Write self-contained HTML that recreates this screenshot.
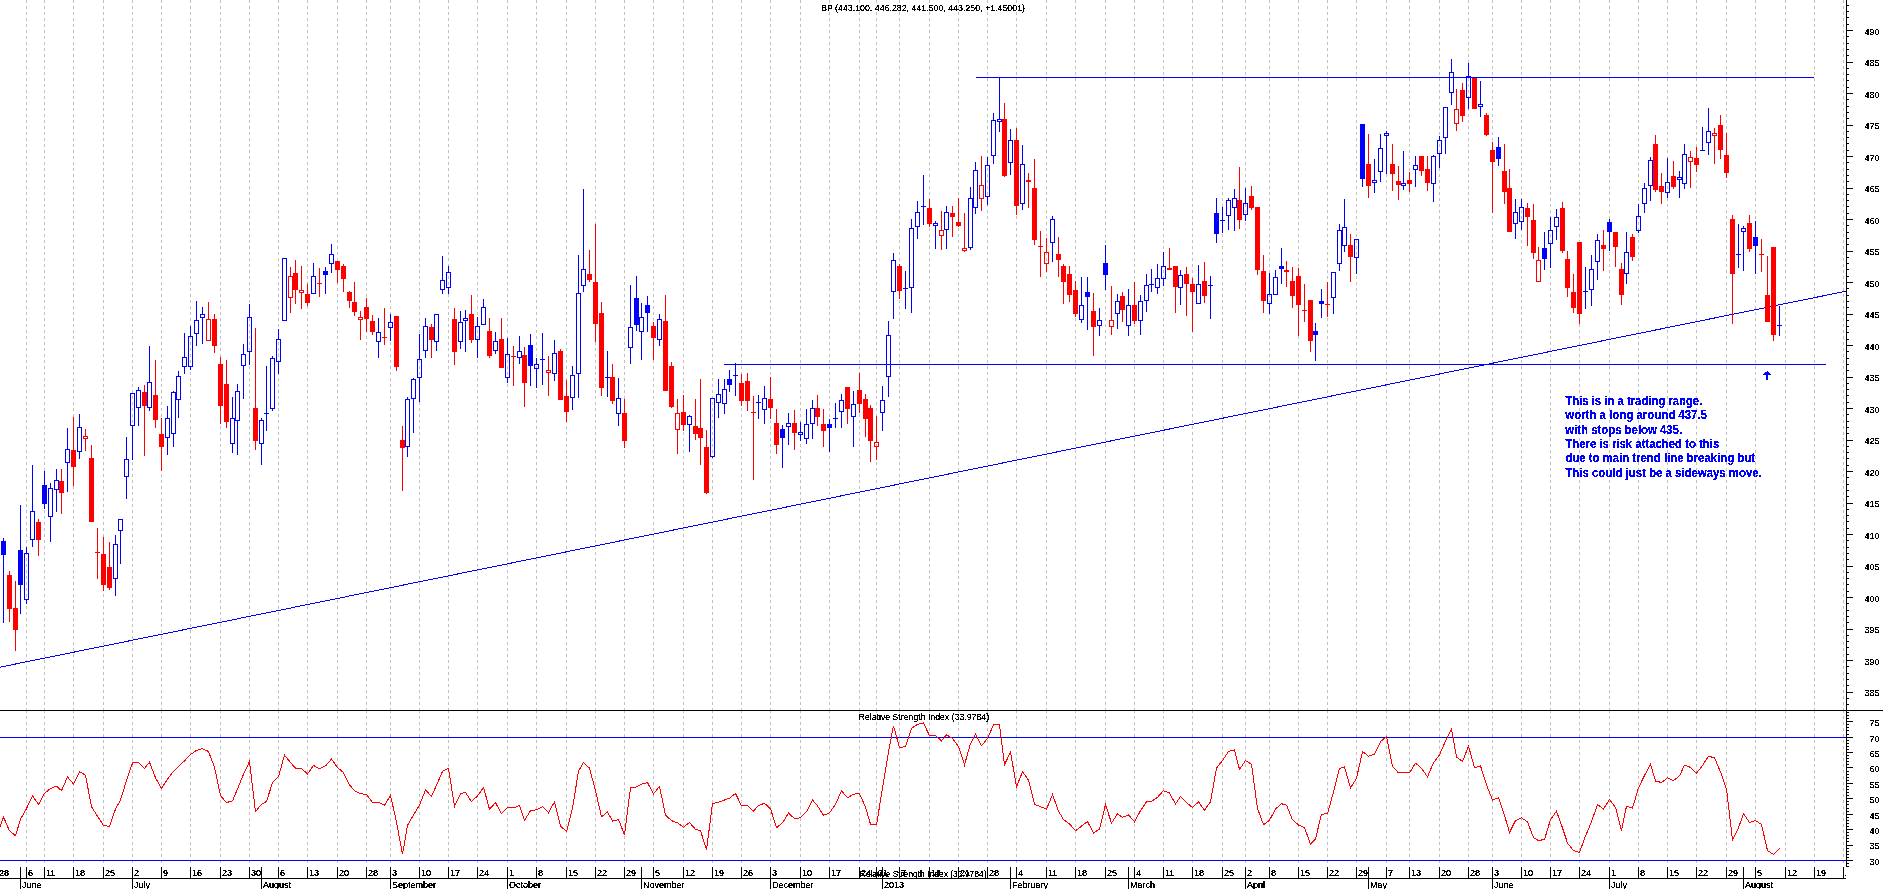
<!DOCTYPE html><html><head><meta charset="utf-8"><style>html,body{margin:0;padding:0;background:#fff;}body{width:1883px;height:889px;overflow:hidden;}svg{display:block;}text{font-family:"Liberation Sans",sans-serif;}</style></head><body>
<svg width="1883" height="889" viewBox="0 0 1883 889" shape-rendering="crispEdges">
<defs><filter id="cr" x="0" y="0" width="1" height="1"><feComponentTransfer><feFuncA type="discrete" tableValues="0 1 1"/></feComponentTransfer></filter></defs>
<rect x="0" y="0" width="1883" height="889" fill="#fff"/>
<path d="M26.5 0V710M44.5 0V710M73.5 0V710M103.5 0V710M132.5 0V710M161.5 0V710M190.5 0V710M220.5 0V710M249.5 0V710M278.5 0V710M307.5 0V710M337.5 0V710M366.5 0V710M390.5 0V710M419.5 0V710M448.5 0V710M477.5 0V710M507.5 0V710M536.5 0V710M566.5 0V710M595.5 0V710M624.5 0V710M653.5 0V710M683.5 0V710M712.5 0V710M741.5 0V710M770.5 0V710M800.5 0V710M829.5 0V710M859.5 0V710M876.5 0V710M899.5 0V710M929.5 0V710M958.5 0V710M987.5 0V710M1016.5 0V710M1046.5 0V710M1075.5 0V710M1105.5 0V710M1134.5 0V710M1163.5 0V710M1192.5 0V710M1222.5 0V710M1245.5 0V710M1269.5 0V710M1298.5 0V710M1327.5 0V710M1356.5 0V710M1386.5 0V710M1409.5 0V710M1439.5 0V710M1468.5 0V710M1492.5 0V710M1521.5 0V710M1550.5 0V710M1579.5 0V710M1609.5 0V710M1638.5 0V710M1667.5 0V710M1696.5 0V710M1726.5 0V710M1755.5 0V710M1785.5 0V710M1814.5 0V710M1843.5 0V710" stroke="#c0c0c0" stroke-width="1" stroke-dasharray="3 3" fill="none"/>
<path d="M26.5 710V863M44.5 710V863M73.5 710V863M103.5 710V863M132.5 710V863M161.5 710V863M190.5 710V863M220.5 710V863M249.5 710V863M278.5 710V863M307.5 710V863M337.5 710V863M366.5 710V863M390.5 710V863M419.5 710V863M448.5 710V863M477.5 710V863M507.5 710V863M536.5 710V863M566.5 710V863M595.5 710V863M624.5 710V863M653.5 710V863M683.5 710V863M712.5 710V863M741.5 710V863M770.5 710V863M800.5 710V863M829.5 710V863M859.5 710V863M876.5 710V863M899.5 710V863M929.5 710V863M958.5 710V863M987.5 710V863M1016.5 710V863M1046.5 710V863M1075.5 710V863M1105.5 710V863M1134.5 710V863M1163.5 710V863M1192.5 710V863M1222.5 710V863M1245.5 710V863M1269.5 710V863M1298.5 710V863M1327.5 710V863M1356.5 710V863M1386.5 710V863M1409.5 710V863M1439.5 710V863M1468.5 710V863M1492.5 710V863M1521.5 710V863M1550.5 710V863M1579.5 710V863M1609.5 710V863M1638.5 710V863M1667.5 710V863M1696.5 710V863M1726.5 710V863M1755.5 710V863M1785.5 710V863M1814.5 710V863M1843.5 710V863" stroke="#c0c0c0" stroke-width="1" stroke-dasharray="3 3" fill="none"/>
<path d="M0 737.5H1846M0 860.5H1846" stroke="#0000ff" stroke-width="1"/>
<path d="M976 77.5H1814M724 364.5H1826" stroke="#0000ff" stroke-width="1"/>
<path d="M0 667.18L1846 291.22" stroke="#0000ff" stroke-width="1" fill="none"/>
<path d="M9 571h1v4h-1zM9 609h1v13h-1zM7 575h5v34h-5zM15 581h1v27h-1zM15 630h1v21h-1zM13 608h5v22h-5zM38 519h1v3h-1zM38 540h1v16h-1zM36 522h5v18h-5zM61 469h1v12h-1zM61 493h1v21h-1zM59 481h5v12h-5zM73 417h1v33h-1zM73 467h1v19h-1zM71 450h5v17h-5zM85 429h1v7h-1zM85 439h1v12h-1zM83 436h5v1h-5zM83 438h5v1h-5zM83 436h1v3h-1zM87 436h1v3h-1zM91 445h1v13h-1zM89 458h5v64h-5zM97 528h1v51h-1zM95 552h5v1h-5zM103 537h1v17h-1zM103 585h1v6h-1zM101 554h5v31h-5zM109 542h1v25h-1zM109 588h1v2h-1zM107 567h5v21h-5zM144 385h1v7h-1zM144 406h1v50h-1zM142 392h5v14h-5zM155 360h1v35h-1zM155 420h1v8h-1zM153 395h5v25h-5zM161 418h1v16h-1zM161 447h1v24h-1zM159 434h5v13h-5zM208 302h1v17h-1zM206 319h5v1h-5zM206 340h5v1h-5zM206 319h1v22h-1zM210 319h1v22h-1zM214 314h1v5h-1zM214 346h1v7h-1zM212 319h5v27h-5zM220 357h1v7h-1zM220 406h1v18h-1zM218 364h5v42h-5zM226 360h1v24h-1zM226 422h1v6h-1zM224 384h5v38h-5zM255 328h1v80h-1zM255 441h1v9h-1zM253 408h5v33h-5zM290 267h1v9h-1zM290 298h1v15h-1zM288 276h5v1h-5zM288 297h5v1h-5zM288 276h1v22h-1zM292 276h1v22h-1zM295 260h1v13h-1zM295 290h1v14h-1zM293 273h5v17h-5zM301 266h1v24h-1zM301 293h1v16h-1zM299 290h5v1h-5zM299 292h5v1h-5zM299 290h1v3h-1zM303 290h1v3h-1zM307 284h1v10h-1zM307 303h1v3h-1zM305 294h5v9h-5zM319 268h1v29h-1zM317 283h5v1h-5zM337 270h1v13h-1zM335 261h5v9h-5zM343 264h1v2h-1zM343 279h1v13h-1zM341 266h5v13h-5zM349 291h1v1h-1zM349 301h1v7h-1zM347 292h5v9h-5zM354 282h1v20h-1zM354 312h1v4h-1zM352 302h5v10h-5zM360 311h1v6h-1zM360 320h1v20h-1zM358 317h5v1h-5zM358 319h5v1h-5zM358 317h1v3h-1zM362 317h1v3h-1zM366 298h1v9h-1zM366 319h1v13h-1zM364 307h5v12h-5zM372 315h1v6h-1zM372 332h1v3h-1zM370 321h5v11h-5zM384 308h1v37h-1zM382 337h5v1h-5zM396 367h1v4h-1zM394 316h5v51h-5zM402 426h1v14h-1zM402 448h1v43h-1zM400 440h5v8h-5zM431 324h1v3h-1zM431 340h1v18h-1zM429 327h5v13h-5zM454 308h1v11h-1zM454 352h1v13h-1zM452 319h5v33h-5zM471 295h1v19h-1zM471 340h1v3h-1zM469 314h5v26h-5zM489 318h1v13h-1zM489 356h1v2h-1zM487 331h5v25h-5zM501 318h1v21h-1zM499 339h5v29h-5zM513 346h1v40h-1zM511 356h5v1h-5zM524 347h1v8h-1zM524 383h1v24h-1zM522 355h5v28h-5zM548 356h1v14h-1zM548 373h1v23h-1zM546 370h5v1h-5zM546 372h5v1h-5zM546 370h1v3h-1zM550 370h1v3h-1zM560 349h1v2h-1zM558 351h5v49h-5zM566 380h1v16h-1zM566 412h1v10h-1zM564 396h5v16h-5zM589 250h1v24h-1zM589 280h1v2h-1zM587 274h5v6h-5zM595 224h1v58h-1zM595 324h1v18h-1zM593 282h5v42h-5zM601 302h1v11h-1zM601 388h1v8h-1zM599 313h5v75h-5zM612 364h1v13h-1zM612 401h1v3h-1zM610 377h5v24h-5zM624 399h1v14h-1zM624 441h1v7h-1zM622 413h5v28h-5zM653 322h1v4h-1zM653 338h1v22h-1zM651 326h5v12h-5zM665 295h1v26h-1zM663 321h5v70h-5zM671 362h1v4h-1zM671 407h1v1h-1zM669 366h5v41h-5zM677 399h1v14h-1zM677 430h1v24h-1zM675 413h5v1h-5zM675 429h5v1h-5zM675 413h1v17h-1zM679 413h1v17h-1zM683 395h1v17h-1zM683 425h1v6h-1zM681 412h5v13h-5zM695 399h1v27h-1zM695 434h1v6h-1zM693 426h5v8h-5zM700 379h1v49h-1zM700 438h1v27h-1zM698 428h5v10h-5zM706 430h1v17h-1zM706 493h1v1h-1zM704 447h5v46h-5zM741 374h1v9h-1zM741 401h1v5h-1zM739 383h5v18h-5zM747 373h1v8h-1zM747 401h1v10h-1zM745 381h5v20h-5zM753 396h1v84h-1zM751 412h5v1h-5zM770 377h1v22h-1zM770 408h1v11h-1zM768 399h5v9h-5zM776 409h1v14h-1zM776 445h1v9h-1zM774 423h5v22h-5zM794 410h1v13h-1zM794 433h1v17h-1zM792 423h5v10h-5zM817 395h1v13h-1zM817 417h1v9h-1zM815 408h5v9h-5zM823 409h1v15h-1zM823 431h1v16h-1zM821 424h5v7h-5zM847 409h1v15h-1zM845 387h5v22h-5zM859 373h1v17h-1zM859 404h1v9h-1zM857 390h5v14h-5zM865 394h1v5h-1zM865 419h1v18h-1zM863 399h5v20h-5zM870 405h1v3h-1zM870 441h1v21h-1zM868 408h5v33h-5zM876 416h1v26h-1zM876 447h1v13h-1zM874 442h5v1h-5zM874 446h5v1h-5zM874 442h1v5h-1zM878 442h1v5h-1zM899 264h1v2h-1zM899 291h1v8h-1zM897 266h5v25h-5zM929 199h1v9h-1zM929 224h1v3h-1zM927 208h5v16h-5zM941 211h1v19h-1zM941 236h1v14h-1zM939 230h5v1h-5zM939 235h5v1h-5zM939 230h1v6h-1zM943 230h1v6h-1zM952 206h1v7h-1zM952 217h1v20h-1zM950 213h5v4h-5zM958 198h1v24h-1zM958 226h1v1h-1zM956 222h5v4h-5zM964 213h1v35h-1zM964 251h1v1h-1zM962 248h5v1h-5zM962 250h5v1h-5zM962 248h1v3h-1zM966 248h1v3h-1zM981 156h1v29h-1zM981 199h1v12h-1zM979 185h5v1h-5zM979 198h5v1h-5zM979 185h1v14h-1zM983 185h1v14h-1zM1004 103h1v16h-1zM1004 176h1v1h-1zM1002 119h5v57h-5zM1016 128h1v12h-1zM1016 206h1v9h-1zM1014 140h5v66h-5zM1028 173h1v7h-1zM1028 182h1v26h-1zM1026 180h5v2h-5zM1034 159h1v29h-1zM1034 240h1v5h-1zM1032 188h5v52h-5zM1040 231h1v46h-1zM1038 246h5v1h-5zM1046 238h1v14h-1zM1046 264h1v8h-1zM1044 252h5v1h-5zM1044 263h5v1h-5zM1044 252h1v12h-1zM1048 252h1v12h-1zM1058 237h1v17h-1zM1058 260h1v17h-1zM1056 254h5v6h-5zM1063 264h1v2h-1zM1063 282h1v22h-1zM1061 266h5v16h-5zM1069 266h1v8h-1zM1069 295h1v7h-1zM1067 274h5v21h-5zM1075 281h1v9h-1zM1075 314h1v3h-1zM1073 290h5v24h-5zM1093 293h1v18h-1zM1093 327h1v29h-1zM1091 311h5v16h-5zM1111 286h1v34h-1zM1111 327h1v8h-1zM1109 320h5v1h-5zM1109 326h5v1h-5zM1109 320h1v7h-1zM1113 320h1v7h-1zM1122 292h1v4h-1zM1122 310h1v12h-1zM1120 296h5v14h-5zM1134 282h1v23h-1zM1134 321h1v3h-1zM1132 305h5v16h-5zM1169 248h1v20h-1zM1167 268h5v2h-5zM1175 287h1v26h-1zM1173 266h5v21h-5zM1186 267h1v7h-1zM1186 284h1v32h-1zM1184 274h5v10h-5zM1192 278h1v6h-1zM1192 292h1v40h-1zM1190 284h5v8h-5zM1204 262h1v19h-1zM1204 296h1v7h-1zM1202 281h5v15h-5zM1239 167h1v33h-1zM1239 220h1v9h-1zM1237 200h5v20h-5zM1251 186h1v10h-1zM1251 208h1v2h-1zM1249 196h5v12h-5zM1257 270h1v5h-1zM1255 207h5v63h-5zM1263 255h1v16h-1zM1263 301h1v12h-1zM1261 271h5v30h-5zM1286 261h1v9h-1zM1286 272h1v15h-1zM1284 270h5v2h-5zM1292 267h1v14h-1zM1292 296h1v12h-1zM1290 281h5v15h-5zM1298 268h1v8h-1zM1298 305h1v31h-1zM1296 276h5v29h-5zM1304 284h1v38h-1zM1302 310h5v1h-5zM1310 341h1v11h-1zM1308 300h5v41h-5zM1327 282h1v35h-1zM1325 304h5v1h-5zM1350 234h1v11h-1zM1350 257h1v25h-1zM1348 245h5v12h-5zM1368 134h1v30h-1zM1368 186h1v12h-1zM1366 164h5v22h-5zM1392 144h1v20h-1zM1392 174h1v17h-1zM1390 164h5v10h-5zM1398 166h1v15h-1zM1398 185h1v15h-1zM1396 181h5v4h-5zM1409 172h1v8h-1zM1409 184h1v8h-1zM1407 180h5v4h-5zM1421 171h1v5h-1zM1419 156h5v15h-5zM1427 156h1v13h-1zM1427 183h1v8h-1zM1425 169h5v14h-5zM1456 89h1v20h-1zM1456 124h1v7h-1zM1454 109h5v1h-5zM1454 123h5v1h-5zM1454 109h1v15h-1zM1458 109h1v15h-1zM1462 83h1v7h-1zM1462 116h1v6h-1zM1460 90h5v26h-5zM1472 78h5v31h-5zM1486 113h1v2h-1zM1486 135h1v1h-1zM1484 115h5v20h-5zM1492 142h1v8h-1zM1492 162h1v51h-1zM1490 150h5v12h-5zM1504 144h1v27h-1zM1504 192h1v12h-1zM1502 171h5v21h-5zM1509 169h1v19h-1zM1507 188h5v44h-5zM1527 203h1v5h-1zM1527 217h1v29h-1zM1525 208h5v9h-5zM1533 204h1v16h-1zM1533 253h1v6h-1zM1531 220h5v33h-5zM1538 247h1v13h-1zM1536 260h5v1h-5zM1536 281h5v1h-5zM1536 260h1v22h-1zM1540 260h1v22h-1zM1562 202h1v6h-1zM1562 251h1v2h-1zM1560 208h5v43h-5zM1567 251h1v8h-1zM1567 288h1v9h-1zM1565 259h5v29h-5zM1573 274h1v18h-1zM1573 308h1v5h-1zM1571 292h5v16h-5zM1579 314h1v10h-1zM1577 242h5v72h-5zM1603 230h1v15h-1zM1603 249h1v22h-1zM1601 245h5v4h-5zM1615 247h1v20h-1zM1613 232h5v15h-5zM1621 263h1v6h-1zM1621 295h1v10h-1zM1619 269h5v26h-5zM1632 234h1v3h-1zM1632 257h1v4h-1zM1630 237h5v20h-5zM1655 135h1v9h-1zM1655 190h1v2h-1zM1653 144h5v46h-5zM1661 173h1v13h-1zM1661 192h1v12h-1zM1659 186h5v6h-5zM1673 161h1v15h-1zM1673 187h1v2h-1zM1671 176h5v11h-5zM1690 151h1v6h-1zM1690 162h1v26h-1zM1688 157h5v1h-5zM1688 161h5v1h-5zM1688 157h1v5h-1zM1692 157h1v5h-1zM1696 147h1v11h-1zM1696 165h1v7h-1zM1694 158h5v7h-5zM1714 128h1v5h-1zM1714 136h1v28h-1zM1712 133h5v1h-5zM1712 135h5v1h-5zM1712 133h1v3h-1zM1716 133h1v3h-1zM1720 115h1v10h-1zM1720 150h1v9h-1zM1718 125h5v25h-5zM1726 133h1v22h-1zM1726 173h1v5h-1zM1724 155h5v18h-5zM1732 215h1v4h-1zM1732 274h1v50h-1zM1730 219h5v55h-5zM1749 215h1v8h-1zM1749 249h1v3h-1zM1747 223h5v26h-5zM1761 239h1v33h-1zM1759 254h5v1h-5zM1767 256h1v39h-1zM1765 295h5v27h-5zM1773 335h1v6h-1zM1771 247h5v88h-5z" fill="#ff0000"/>
<path d="M3 538h1v3h-1zM3 555h1v68h-1zM1 541h5v14h-5zM20 505h1v45h-1zM20 585h1v29h-1zM18 550h5v35h-5zM26 547h1v6h-1zM26 600h1v4h-1zM24 553h5v1h-5zM24 599h5v1h-5zM24 553h1v47h-1zM28 553h1v47h-1zM32 465h1v46h-1zM32 540h1v7h-1zM30 511h5v1h-5zM30 539h5v1h-5zM30 511h1v29h-1zM34 511h1v29h-1zM44 471h1v14h-1zM44 504h1v5h-1zM42 485h5v19h-5zM50 483h1v5h-1zM50 517h1v25h-1zM48 488h5v1h-5zM48 516h5v1h-5zM48 488h1v29h-1zM52 488h1v29h-1zM56 469h1v11h-1zM56 490h1v22h-1zM54 480h5v1h-5zM54 489h5v1h-5zM54 480h1v10h-1zM58 480h1v10h-1zM67 428h1v21h-1zM67 463h1v29h-1zM65 449h5v1h-5zM65 462h5v1h-5zM65 449h1v14h-1zM69 449h1v14h-1zM79 414h1v13h-1zM79 452h1v7h-1zM77 427h5v1h-5zM77 451h5v1h-5zM77 427h1v25h-1zM81 427h1v25h-1zM115 535h1v9h-1zM115 579h1v17h-1zM113 544h5v1h-5zM113 578h5v1h-5zM113 544h1v35h-1zM117 544h1v35h-1zM120 531h1v33h-1zM118 519h5v1h-5zM118 530h5v1h-5zM118 519h1v12h-1zM122 519h1v12h-1zM126 437h1v22h-1zM126 477h1v22h-1zM124 459h5v1h-5zM124 476h5v1h-5zM124 459h1v18h-1zM128 459h1v18h-1zM132 426h1v34h-1zM130 393h5v1h-5zM130 425h5v1h-5zM130 393h1v33h-1zM134 393h1v33h-1zM138 387h1v3h-1zM138 408h1v18h-1zM136 390h5v1h-5zM136 407h5v1h-5zM136 390h1v18h-1zM140 390h1v18h-1zM149 346h1v36h-1zM149 408h1v3h-1zM147 382h5v1h-5zM147 407h5v1h-5zM147 382h1v26h-1zM151 382h1v26h-1zM167 406h1v12h-1zM167 438h1v17h-1zM165 418h5v1h-5zM165 437h5v1h-5zM165 418h1v20h-1zM169 418h1v20h-1zM173 391h1v1h-1zM173 434h1v13h-1zM171 392h5v1h-5zM171 433h5v1h-5zM171 392h1v42h-1zM175 392h1v42h-1zM178 371h1v5h-1zM178 400h1v18h-1zM176 376h5v1h-5zM176 399h5v1h-5zM176 376h1v24h-1zM180 376h1v24h-1zM184 333h1v24h-1zM184 367h1v7h-1zM182 357h5v1h-5zM182 366h5v1h-5zM182 357h1v10h-1zM186 357h1v10h-1zM190 326h1v10h-1zM190 367h1v3h-1zM188 336h5v1h-5zM188 366h5v1h-5zM188 336h1v31h-1zM192 336h1v31h-1zM196 301h1v19h-1zM196 334h1v12h-1zM194 320h5v1h-5zM194 333h5v1h-5zM194 320h1v14h-1zM198 320h1v14h-1zM202 307h1v7h-1zM202 318h1v26h-1zM200 314h5v1h-5zM200 317h5v1h-5zM200 314h1v4h-1zM204 314h1v4h-1zM232 397h1v21h-1zM232 444h1v9h-1zM230 418h5v1h-5zM230 443h5v1h-5zM230 418h1v26h-1zM234 418h1v26h-1zM237 384h1v7h-1zM237 421h1v34h-1zM235 391h5v1h-5zM235 420h5v1h-5zM235 391h1v30h-1zM239 391h1v30h-1zM243 344h1v10h-1zM243 366h1v33h-1zM241 354h5v1h-5zM241 365h5v1h-5zM241 354h1v12h-1zM245 354h1v12h-1zM249 304h1v13h-1zM249 352h1v13h-1zM247 317h5v1h-5zM247 351h5v1h-5zM247 317h1v35h-1zM251 317h1v35h-1zM261 418h1v2h-1zM261 444h1v21h-1zM259 420h5v1h-5zM259 443h5v1h-5zM259 420h1v24h-1zM263 420h1v24h-1zM266 366h1v65h-1zM264 413h5v1h-5zM272 356h1v2h-1zM272 409h1v2h-1zM270 358h5v1h-5zM270 408h5v1h-5zM270 358h1v51h-1zM274 358h1v51h-1zM278 329h1v10h-1zM278 362h1v12h-1zM276 339h5v1h-5zM276 361h5v1h-5zM276 339h1v23h-1zM280 339h1v23h-1zM282 258h5v1h-5zM282 320h5v1h-5zM282 258h1v63h-1zM286 258h1v63h-1zM313 263h1v13h-1zM311 276h5v1h-5zM311 293h5v1h-5zM311 276h1v18h-1zM315 276h1v18h-1zM325 267h1v4h-1zM325 275h1v19h-1zM323 271h5v4h-5zM331 244h1v10h-1zM331 264h1v9h-1zM329 254h5v1h-5zM329 263h5v1h-5zM329 254h1v10h-1zM333 254h1v10h-1zM378 318h1v14h-1zM378 342h1v16h-1zM376 332h5v1h-5zM376 341h5v1h-5zM376 332h1v10h-1zM380 332h1v10h-1zM390 314h1v8h-1zM390 328h1v13h-1zM388 322h5v1h-5zM388 327h5v1h-5zM388 322h1v6h-1zM392 322h1v6h-1zM407 397h1v2h-1zM407 447h1v10h-1zM405 399h5v1h-5zM405 446h5v1h-5zM405 399h1v48h-1zM409 399h1v48h-1zM413 378h1v1h-1zM413 399h1v34h-1zM411 379h5v1h-5zM411 398h5v1h-5zM411 379h1v20h-1zM415 379h1v20h-1zM419 334h1v25h-1zM419 378h1v24h-1zM417 359h5v1h-5zM417 377h5v1h-5zM417 359h1v19h-1zM421 359h1v19h-1zM425 318h1v8h-1zM425 351h1v7h-1zM423 326h5v1h-5zM423 350h5v1h-5zM423 326h1v25h-1zM427 326h1v25h-1zM436 342h1v9h-1zM434 314h5v1h-5zM434 341h5v1h-5zM434 314h1v28h-1zM438 314h1v28h-1zM442 256h1v24h-1zM442 290h1v4h-1zM440 280h5v1h-5zM440 289h5v1h-5zM440 280h1v10h-1zM444 280h1v10h-1zM448 266h1v6h-1zM448 288h1v6h-1zM446 272h5v1h-5zM446 287h5v1h-5zM446 272h1v16h-1zM450 272h1v16h-1zM460 311h1v11h-1zM460 342h1v7h-1zM458 322h5v1h-5zM458 341h5v1h-5zM458 322h1v20h-1zM462 322h1v20h-1zM465 310h1v8h-1zM465 321h1v31h-1zM463 318h5v1h-5zM463 320h5v1h-5zM463 318h1v3h-1zM467 318h1v3h-1zM477 317h1v9h-1zM477 340h1v18h-1zM475 326h5v1h-5zM475 339h5v1h-5zM475 326h1v14h-1zM479 326h1v14h-1zM483 299h1v8h-1zM481 307h5v1h-5zM481 324h5v1h-5zM481 307h1v18h-1zM485 307h1v18h-1zM495 332h1v9h-1zM495 351h1v3h-1zM493 341h5v1h-5zM493 350h5v1h-5zM493 341h1v10h-1zM497 341h1v10h-1zM507 338h1v16h-1zM507 378h1v5h-1zM505 354h5v1h-5zM505 377h5v1h-5zM505 354h1v24h-1zM509 354h1v24h-1zM519 336h1v15h-1zM519 358h1v6h-1zM517 351h5v1h-5zM517 357h5v1h-5zM517 351h1v7h-1zM521 351h1v7h-1zM530 334h1v11h-1zM530 366h1v20h-1zM528 345h5v21h-5zM536 358h1v6h-1zM536 369h1v19h-1zM534 364h5v1h-5zM534 368h5v1h-5zM534 364h1v5h-1zM538 364h1v5h-1zM542 333h1v52h-1zM540 359h5v1h-5zM554 340h1v13h-1zM554 374h1v7h-1zM552 353h5v1h-5zM552 373h5v1h-5zM552 353h1v21h-1zM556 353h1v21h-1zM572 366h1v9h-1zM572 398h1v12h-1zM570 375h5v1h-5zM570 397h5v1h-5zM570 375h1v23h-1zM574 375h1v23h-1zM578 255h1v38h-1zM578 374h1v24h-1zM576 293h5v1h-5zM576 373h5v1h-5zM576 293h1v81h-1zM580 293h1v81h-1zM583 189h1v80h-1zM583 286h1v6h-1zM581 269h5v1h-5zM581 285h5v1h-5zM581 269h1v17h-1zM585 269h1v17h-1zM607 351h1v46h-1zM605 377h5v1h-5zM618 378h1v20h-1zM618 414h1v12h-1zM616 398h5v1h-5zM616 413h5v1h-5zM616 398h1v16h-1zM620 398h1v16h-1zM630 285h1v42h-1zM630 348h1v16h-1zM628 327h5v1h-5zM628 347h5v1h-5zM628 327h1v21h-1zM632 327h1v21h-1zM636 276h1v22h-1zM636 325h1v6h-1zM634 298h5v27h-5zM641 303h1v14h-1zM641 332h1v28h-1zM639 317h5v1h-5zM639 331h5v1h-5zM639 317h1v15h-1zM643 317h1v15h-1zM647 296h1v9h-1zM647 313h1v19h-1zM645 305h5v8h-5zM659 314h1v5h-1zM659 340h1v6h-1zM657 319h5v1h-5zM657 339h5v1h-5zM657 319h1v21h-1zM661 319h1v21h-1zM689 415h1v1h-1zM689 425h1v27h-1zM687 416h5v1h-5zM687 424h5v1h-5zM687 416h1v9h-1zM691 416h1v9h-1zM712 457h1v1h-1zM710 398h5v1h-5zM710 456h5v1h-5zM710 398h1v59h-1zM714 398h1v59h-1zM718 379h1v15h-1zM718 403h1v15h-1zM716 394h5v1h-5zM716 402h5v1h-5zM716 394h1v9h-1zM720 394h1v9h-1zM724 379h1v10h-1zM724 404h1v10h-1zM722 389h5v1h-5zM722 403h5v1h-5zM722 389h1v15h-1zM726 389h1v15h-1zM729 370h1v9h-1zM729 385h1v7h-1zM727 379h5v6h-5zM735 363h1v33h-1zM733 375h5v1h-5zM758 395h1v24h-1zM756 402h5v1h-5zM764 386h1v12h-1zM764 410h1v14h-1zM762 398h5v1h-5zM762 409h5v1h-5zM762 398h1v12h-1zM766 398h1v12h-1zM782 425h1v4h-1zM782 438h1v30h-1zM780 429h5v9h-5zM788 413h1v10h-1zM788 427h1v18h-1zM786 423h5v1h-5zM786 426h5v1h-5zM786 423h1v4h-1zM790 423h1v4h-1zM800 422h1v10h-1zM800 435h1v6h-1zM798 432h5v1h-5zM798 434h5v1h-5zM798 432h1v3h-1zM802 432h1v3h-1zM806 409h1v15h-1zM806 439h1v5h-1zM804 424h5v1h-5zM804 438h5v1h-5zM804 424h1v15h-1zM808 424h1v15h-1zM812 400h1v8h-1zM812 424h1v15h-1zM810 408h5v1h-5zM810 423h5v1h-5zM810 408h1v16h-1zM814 408h1v16h-1zM829 419h1v5h-1zM829 428h1v24h-1zM827 424h5v4h-5zM835 403h1v25h-1zM833 418h5v1h-5zM841 394h1v6h-1zM841 412h1v16h-1zM839 400h5v1h-5zM839 411h5v1h-5zM839 400h1v12h-1zM843 400h1v12h-1zM853 391h1v13h-1zM853 417h1v30h-1zM851 404h5v1h-5zM851 416h5v1h-5zM851 404h1v13h-1zM855 404h1v13h-1zM882 386h1v14h-1zM882 413h1v18h-1zM880 400h5v1h-5zM880 412h5v1h-5zM880 400h1v13h-1zM884 400h1v13h-1zM888 321h1v14h-1zM888 377h1v20h-1zM886 335h5v1h-5zM886 376h5v1h-5zM886 335h1v42h-1zM890 335h1v42h-1zM893 253h1v7h-1zM893 292h1v27h-1zM891 260h5v1h-5zM891 291h5v1h-5zM891 260h1v32h-1zM895 260h1v32h-1zM905 271h1v38h-1zM903 288h5v1h-5zM911 219h1v9h-1zM911 288h1v25h-1zM909 228h5v1h-5zM909 287h5v1h-5zM909 228h1v60h-1zM913 228h1v60h-1zM917 201h1v11h-1zM917 227h1v12h-1zM915 212h5v1h-5zM915 226h5v1h-5zM915 212h1v15h-1zM919 212h1v15h-1zM923 175h1v50h-1zM921 206h5v1h-5zM935 221h1v2h-1zM935 226h1v23h-1zM933 223h5v1h-5zM933 225h5v1h-5zM933 223h1v3h-1zM937 223h1v3h-1zM946 206h1v6h-1zM946 230h1v19h-1zM944 212h5v1h-5zM944 229h5v1h-5zM944 212h1v18h-1zM948 212h1v18h-1zM970 187h1v11h-1zM970 248h1v2h-1zM968 198h5v1h-5zM968 247h5v1h-5zM968 198h1v50h-1zM972 198h1v50h-1zM975 162h1v8h-1zM975 208h1v6h-1zM973 170h5v1h-5zM973 207h5v1h-5zM973 170h1v38h-1zM977 170h1v38h-1zM987 157h1v8h-1zM987 197h1v8h-1zM985 165h5v1h-5zM985 196h5v1h-5zM985 165h1v32h-1zM989 165h1v32h-1zM993 113h1v7h-1zM993 156h1v8h-1zM991 120h5v1h-5zM991 155h5v1h-5zM991 120h1v36h-1zM995 120h1v36h-1zM999 77h1v42h-1zM999 122h1v10h-1zM997 119h5v1h-5zM997 121h5v1h-5zM997 119h1v3h-1zM1001 119h1v3h-1zM1010 129h1v11h-1zM1010 163h1v12h-1zM1008 140h5v1h-5zM1008 162h5v1h-5zM1008 140h1v23h-1zM1012 140h1v23h-1zM1022 145h1v19h-1zM1022 204h1v6h-1zM1020 164h5v1h-5zM1020 203h5v1h-5zM1020 164h1v40h-1zM1024 164h1v40h-1zM1052 216h1v3h-1zM1052 243h1v19h-1zM1050 219h5v1h-5zM1050 242h5v1h-5zM1050 219h1v24h-1zM1054 219h1v24h-1zM1081 277h1v28h-1zM1081 320h1v3h-1zM1079 305h5v1h-5zM1079 319h5v1h-5zM1079 305h1v15h-1zM1083 305h1v15h-1zM1087 277h1v15h-1zM1087 297h1v33h-1zM1085 292h5v5h-5zM1099 308h1v12h-1zM1099 326h1v10h-1zM1097 320h5v1h-5zM1097 325h5v1h-5zM1097 320h1v6h-1zM1101 320h1v6h-1zM1105 245h1v18h-1zM1105 275h1v15h-1zM1103 263h5v12h-5zM1117 294h1v7h-1zM1117 314h1v15h-1zM1115 301h5v1h-5zM1115 313h5v1h-5zM1115 301h1v13h-1zM1119 301h1v13h-1zM1128 289h1v16h-1zM1128 326h1v10h-1zM1126 305h5v1h-5zM1126 325h5v1h-5zM1126 305h1v21h-1zM1130 305h1v21h-1zM1140 295h1v6h-1zM1140 321h1v14h-1zM1138 301h5v1h-5zM1138 320h5v1h-5zM1138 301h1v20h-1zM1142 301h1v20h-1zM1146 274h1v11h-1zM1146 301h1v11h-1zM1144 285h5v1h-5zM1144 300h5v1h-5zM1144 285h1v16h-1zM1148 285h1v16h-1zM1151 269h1v23h-1zM1149 284h5v1h-5zM1157 264h1v14h-1zM1157 288h1v6h-1zM1155 278h5v1h-5zM1155 287h5v1h-5zM1155 278h1v10h-1zM1159 278h1v10h-1zM1163 252h1v14h-1zM1163 279h1v7h-1zM1161 266h5v1h-5zM1161 278h5v1h-5zM1161 266h1v13h-1zM1165 266h1v13h-1zM1180 270h1v5h-1zM1180 288h1v17h-1zM1178 275h5v1h-5zM1178 287h5v1h-5zM1178 275h1v13h-1zM1182 275h1v13h-1zM1198 265h1v19h-1zM1196 284h5v1h-5zM1196 303h5v1h-5zM1196 284h1v20h-1zM1200 284h1v20h-1zM1210 276h1v43h-1zM1208 285h5v1h-5zM1216 198h1v15h-1zM1216 234h1v9h-1zM1214 213h5v21h-5zM1222 207h1v26h-1zM1220 220h5v1h-5zM1228 198h1v2h-1zM1228 216h1v14h-1zM1226 200h5v1h-5zM1226 215h5v1h-5zM1226 200h1v16h-1zM1230 200h1v16h-1zM1234 189h1v9h-1zM1234 208h1v23h-1zM1232 198h5v1h-5zM1232 207h5v1h-5zM1232 198h1v10h-1zM1236 198h1v10h-1zM1245 188h1v15h-1zM1245 215h1v6h-1zM1243 203h5v1h-5zM1243 214h5v1h-5zM1243 203h1v12h-1zM1247 203h1v12h-1zM1269 273h1v21h-1zM1269 304h1v10h-1zM1267 294h5v1h-5zM1267 303h5v1h-5zM1267 294h1v10h-1zM1271 294h1v10h-1zM1275 270h1v7h-1zM1273 277h5v1h-5zM1273 294h5v1h-5zM1273 277h1v18h-1zM1277 277h1v18h-1zM1281 248h1v18h-1zM1281 269h1v15h-1zM1279 266h5v3h-5zM1315 323h1v8h-1zM1315 335h1v26h-1zM1313 331h5v4h-5zM1321 289h1v12h-1zM1321 304h1v14h-1zM1319 301h5v3h-5zM1333 298h1v16h-1zM1331 272h5v1h-5zM1331 297h5v1h-5zM1331 272h1v26h-1zM1335 272h1v26h-1zM1339 224h1v6h-1zM1339 264h1v7h-1zM1337 230h5v1h-5zM1337 263h5v1h-5zM1337 230h1v34h-1zM1341 230h1v34h-1zM1344 199h1v28h-1zM1344 246h1v6h-1zM1342 227h5v1h-5zM1342 245h5v1h-5zM1342 227h1v19h-1zM1346 227h1v19h-1zM1356 258h1v16h-1zM1354 239h5v1h-5zM1354 257h5v1h-5zM1354 239h1v19h-1zM1358 239h1v19h-1zM1362 179h1v8h-1zM1360 124h5v55h-5zM1374 159h1v21h-1zM1374 183h1v10h-1zM1372 180h5v1h-5zM1372 182h5v1h-5zM1372 180h1v3h-1zM1376 180h1v3h-1zM1380 134h1v14h-1zM1380 172h1v10h-1zM1378 148h5v1h-5zM1378 171h5v1h-5zM1378 148h1v24h-1zM1382 148h1v24h-1zM1386 131h1v2h-1zM1386 136h1v38h-1zM1384 133h5v1h-5zM1384 135h5v1h-5zM1384 133h1v3h-1zM1388 133h1v3h-1zM1403 151h1v32h-1zM1403 186h1v4h-1zM1401 183h5v1h-5zM1401 185h5v1h-5zM1401 183h1v3h-1zM1405 183h1v3h-1zM1415 156h1v9h-1zM1415 170h1v17h-1zM1413 165h5v1h-5zM1413 169h5v1h-5zM1413 165h1v5h-1zM1417 165h1v5h-1zM1433 155h1v1h-1zM1433 184h1v18h-1zM1431 156h5v1h-5zM1431 183h5v1h-5zM1431 156h1v28h-1zM1435 156h1v28h-1zM1439 136h1v4h-1zM1439 154h1v14h-1zM1437 140h5v1h-5zM1437 153h5v1h-5zM1437 140h1v14h-1zM1441 140h1v14h-1zM1445 138h1v16h-1zM1443 107h5v1h-5zM1443 137h5v1h-5zM1443 107h1v31h-1zM1447 107h1v31h-1zM1451 59h1v13h-1zM1451 93h1v12h-1zM1449 72h5v1h-5zM1449 92h5v1h-5zM1449 72h1v21h-1zM1453 72h1v21h-1zM1468 63h1v13h-1zM1468 98h1v11h-1zM1466 76h5v1h-5zM1466 97h5v1h-5zM1466 76h1v22h-1zM1470 76h1v22h-1zM1480 81h1v23h-1zM1480 107h1v10h-1zM1478 104h5v1h-5zM1478 106h5v1h-5zM1478 104h1v3h-1zM1482 104h1v3h-1zM1498 137h1v10h-1zM1498 159h1v7h-1zM1496 147h5v12h-5zM1515 199h1v13h-1zM1515 224h1v15h-1zM1513 212h5v1h-5zM1513 223h5v1h-5zM1513 212h1v12h-1zM1517 212h1v12h-1zM1521 199h1v8h-1zM1521 222h1v8h-1zM1519 207h5v1h-5zM1519 221h5v1h-5zM1519 207h1v15h-1zM1523 207h1v15h-1zM1544 232h1v16h-1zM1544 259h1v11h-1zM1542 248h5v11h-5zM1550 217h1v13h-1zM1550 244h1v24h-1zM1548 230h5v1h-5zM1548 243h5v1h-5zM1548 230h1v14h-1zM1552 230h1v14h-1zM1556 209h1v8h-1zM1556 227h1v13h-1zM1554 217h5v1h-5zM1554 226h5v1h-5zM1554 217h1v10h-1zM1558 217h1v10h-1zM1585 267h1v42h-1zM1583 291h5v1h-5zM1591 255h1v14h-1zM1591 290h1v16h-1zM1589 269h5v1h-5zM1589 289h5v1h-5zM1589 269h1v21h-1zM1593 269h1v21h-1zM1597 234h1v6h-1zM1597 262h1v18h-1zM1595 240h5v1h-5zM1595 261h5v1h-5zM1595 240h1v22h-1zM1599 240h1v22h-1zM1609 219h1v3h-1zM1609 232h1v19h-1zM1607 222h5v10h-5zM1626 232h1v20h-1zM1626 274h1v10h-1zM1624 252h5v1h-5zM1624 273h5v1h-5zM1624 252h1v22h-1zM1628 252h1v22h-1zM1638 204h1v12h-1zM1638 231h1v2h-1zM1636 216h5v1h-5zM1636 230h5v1h-5zM1636 216h1v15h-1zM1640 216h1v15h-1zM1644 183h1v5h-1zM1644 204h1v9h-1zM1642 188h5v1h-5zM1642 203h5v1h-5zM1642 188h1v16h-1zM1646 188h1v16h-1zM1650 157h1v3h-1zM1650 186h1v15h-1zM1648 160h5v1h-5zM1648 185h5v1h-5zM1648 160h1v26h-1zM1652 160h1v26h-1zM1667 158h1v24h-1zM1667 193h1v5h-1zM1665 182h5v1h-5zM1665 192h5v1h-5zM1665 182h1v11h-1zM1669 182h1v11h-1zM1679 171h1v6h-1zM1679 180h1v18h-1zM1677 177h5v1h-5zM1677 179h5v1h-5zM1677 177h1v3h-1zM1681 177h1v3h-1zM1684 144h1v10h-1zM1684 184h1v5h-1zM1682 154h5v1h-5zM1682 183h5v1h-5zM1682 154h1v30h-1zM1686 154h1v30h-1zM1702 127h1v24h-1zM1700 150h5v1h-5zM1708 108h1v23h-1zM1708 143h1v12h-1zM1706 131h5v1h-5zM1706 142h5v1h-5zM1706 131h1v12h-1zM1710 131h1v12h-1zM1738 224h1v44h-1zM1736 254h5v1h-5zM1743 226h1v2h-1zM1743 232h1v39h-1zM1741 228h5v1h-5zM1741 231h5v1h-5zM1741 228h1v4h-1zM1745 228h1v4h-1zM1755 221h1v16h-1zM1755 246h1v28h-1zM1753 237h5v9h-5zM1779 306h1v30h-1zM1777 325h5v1h-5z" fill="#0000ff"/>
<path d="M1767 371h1v1h1v1h1v1h1v1h-3v5h-2v-5h-3v-1h1v-1h1v-1h1z" fill="#0000ff"/>
<polyline points="-2.23,833.40 3.50,817.10 9.50,830.77 15.50,835.71 20.50,819.27 26.50,808.70 32.50,795.61 38.50,804.56 44.50,793.17 50.50,788.62 56.50,786.11 61.50,790.73 67.50,776.95 73.50,783.89 79.50,771.71 85.50,775.23 91.50,806.83 97.50,816.14 103.50,825.48 109.50,826.51 115.50,809.00 120.50,800.00 126.50,780.53 132.50,762.99 138.50,762.19 144.50,768.56 149.50,762.15 155.50,777.86 161.50,788.36 167.50,779.19 173.50,771.25 178.50,766.47 184.50,760.88 190.50,754.62 196.50,750.34 202.50,748.59 208.50,751.53 214.50,767.13 220.50,795.72 226.50,802.56 232.50,800.97 237.50,789.01 243.50,774.35 249.50,761.44 255.50,811.64 261.50,804.21 266.50,801.48 272.50,782.66 278.50,776.77 284.50,755.07 290.50,762.49 295.50,768.11 301.50,768.46 307.50,774.02 313.50,765.53 319.50,768.78 325.50,765.96 331.50,759.10 337.50,767.58 343.50,772.65 349.50,784.75 354.50,790.61 360.50,793.61 366.50,794.46 372.50,802.55 378.50,802.36 384.50,805.19 390.50,795.43 396.50,821.93 402.50,854.36 407.50,825.44 413.50,815.00 419.50,805.08 425.50,789.96 431.50,796.41 436.50,785.15 442.50,771.47 448.50,768.34 454.50,806.44 460.50,793.89 465.50,792.38 471.50,801.74 477.50,795.85 483.50,787.48 489.50,809.21 495.50,802.58 501.50,813.73 507.50,807.19 513.50,807.92 519.50,805.38 524.50,820.21 530.50,810.82 536.50,809.72 542.50,806.68 548.50,812.80 554.50,801.79 560.50,826.07 566.50,831.55 572.50,808.56 578.50,770.97 583.50,762.48 589.50,768.13 595.50,790.84 601.50,816.83 607.50,811.86 612.50,821.07 618.50,819.53 624.50,834.78 630.50,787.76 636.50,786.90 641.50,784.23 647.50,782.62 653.50,793.82 659.50,786.40 665.50,815.13 671.50,820.60 677.50,822.87 683.50,827.19 689.50,822.46 695.50,829.40 700.50,830.56 706.50,849.82 712.50,803.75 718.50,802.18 724.50,800.02 729.50,798.28 735.50,793.46 741.50,805.69 747.50,805.69 753.50,811.17 758.50,805.42 764.50,803.30 770.50,808.77 776.50,827.75 782.50,822.84 788.50,813.03 794.50,818.63 800.50,817.75 806.50,811.77 812.50,800.07 817.50,805.89 823.50,815.31 829.50,812.82 835.50,804.39 841.50,790.72 847.50,797.83 853.50,794.10 859.50,793.68 865.50,807.07 870.50,824.17 876.50,824.75 882.50,788.34 888.50,751.59 893.50,725.76 899.50,747.52 905.50,746.59 911.50,728.44 917.50,724.44 923.50,722.98 929.50,735.74 935.50,735.48 941.50,740.92 946.50,734.84 952.50,738.44 958.50,746.48 964.50,764.89 970.50,743.62 975.50,734.03 981.50,745.72 987.50,738.51 993.50,724.89 999.50,724.61 1004.50,764.86 1010.50,751.96 1016.50,786.75 1022.50,771.69 1028.50,780.11 1034.50,804.23 1040.50,806.74 1046.50,809.08 1052.50,794.66 1058.50,811.11 1063.50,819.54 1069.50,823.96 1075.50,830.74 1081.50,826.14 1087.50,821.44 1093.50,833.20 1099.50,828.99 1105.50,804.62 1111.50,823.11 1117.50,813.85 1122.50,817.33 1128.50,814.82 1134.50,821.78 1140.50,810.69 1146.50,801.81 1151.50,801.30 1157.50,797.26 1163.50,790.67 1169.50,792.99 1175.50,804.08 1180.50,796.50 1186.50,802.57 1192.50,807.48 1198.50,801.95 1204.50,810.08 1210.50,801.86 1216.50,768.02 1222.50,760.64 1228.50,751.38 1234.50,750.01 1239.50,769.33 1245.50,760.57 1251.50,764.27 1257.50,808.43 1263.50,824.66 1269.50,820.36 1275.50,808.94 1281.50,803.71 1286.50,805.10 1292.50,819.79 1298.50,825.02 1304.50,827.72 1310.50,844.12 1315.50,838.93 1321.50,814.11 1327.50,813.81 1333.50,791.89 1339.50,768.43 1344.50,766.83 1350.50,787.99 1356.50,778.36 1362.50,751.46 1368.50,756.17 1374.50,754.11 1380.50,741.66 1386.50,736.46 1392.50,766.21 1398.50,772.88 1403.50,772.11 1409.50,772.98 1415.50,763.18 1421.50,768.14 1427.50,777.02 1433.50,762.64 1439.50,754.93 1445.50,740.95 1451.50,728.73 1456.50,756.96 1462.50,761.54 1468.50,746.05 1474.50,767.71 1480.50,765.85 1486.50,784.95 1492.50,800.01 1498.50,797.91 1504.50,815.27 1509.50,832.51 1515.50,820.62 1521.50,817.68 1527.50,822.06 1533.50,837.56 1538.50,840.60 1544.50,839.44 1550.50,819.68 1556.50,811.25 1562.50,827.84 1567.50,843.10 1573.50,850.67 1579.50,852.50 1585.50,836.03 1591.50,821.72 1597.50,804.60 1603.50,808.94 1609.50,799.43 1615.50,807.38 1621.50,830.49 1626.50,806.21 1632.50,808.19 1638.50,787.76 1644.50,775.56 1650.50,764.20 1655.50,781.00 1661.50,782.51 1667.50,777.86 1673.50,780.54 1679.50,775.87 1684.50,765.19 1690.50,767.40 1696.50,773.21 1702.50,765.52 1708.50,756.25 1714.50,757.76 1720.50,771.90 1726.50,788.99 1732.50,840.05 1738.50,827.77 1743.50,813.61 1749.50,822.44 1755.50,820.55 1761.50,824.55 1767.50,850.61 1773.50,854.47 1779.50,848.24" stroke="#ff0000" stroke-width="1" fill="none"/>
<rect x="1847" y="0" width="36" height="889" fill="#fff"/>
<path d="M0 710.5H1883M1846.5 0V867" stroke="#000" stroke-width="1"/>
<path d="M1847 704.5h2M1847 698.5h2M1847 692.5h6M1847 685.5h2M1847 679.5h2M1847 673.5h2M1847 666.5h2M1847 660.5h6M1847 654.5h2M1847 647.5h2M1847 641.5h2M1847 635.5h2M1847 629.5h6M1847 622.5h2M1847 616.5h2M1847 610.5h2M1847 603.5h2M1847 597.5h6M1847 591.5h2M1847 584.5h2M1847 578.5h2M1847 572.5h2M1847 566.5h6M1847 559.5h2M1847 553.5h2M1847 547.5h2M1847 540.5h2M1847 534.5h6M1847 528.5h2M1847 521.5h2M1847 515.5h2M1847 509.5h2M1847 503.5h6M1847 496.5h2M1847 490.5h2M1847 484.5h2M1847 477.5h2M1847 471.5h6M1847 465.5h2M1847 458.5h2M1847 452.5h2M1847 446.5h2M1847 440.5h6M1847 433.5h2M1847 427.5h2M1847 421.5h2M1847 414.5h2M1847 408.5h6M1847 402.5h2M1847 395.5h2M1847 389.5h2M1847 383.5h2M1847 377.5h6M1847 370.5h2M1847 364.5h2M1847 358.5h2M1847 351.5h2M1847 345.5h6M1847 339.5h2M1847 332.5h2M1847 326.5h2M1847 320.5h2M1847 314.5h6M1847 307.5h2M1847 301.5h2M1847 295.5h2M1847 288.5h2M1847 282.5h6M1847 276.5h2M1847 269.5h2M1847 263.5h2M1847 257.5h2M1847 251.5h6M1847 244.5h2M1847 238.5h2M1847 232.5h2M1847 225.5h2M1847 219.5h6M1847 213.5h2M1847 206.5h2M1847 200.5h2M1847 194.5h2M1847 188.5h6M1847 181.5h2M1847 175.5h2M1847 169.5h2M1847 162.5h2M1847 156.5h6M1847 150.5h2M1847 143.5h2M1847 137.5h2M1847 131.5h2M1847 125.5h6M1847 118.5h2M1847 112.5h2M1847 106.5h2M1847 99.5h2M1847 93.5h6M1847 87.5h2M1847 80.5h2M1847 74.5h2M1847 68.5h2M1847 62.5h6M1847 55.5h2M1847 49.5h2M1847 43.5h2M1847 36.5h2M1847 30.5h6M1847 24.5h2M1847 17.5h2M1847 11.5h2M1847 5.5h2M1847 866.5h2M1847 863.5h2M1847 860.5h6M1847 857.5h2M1847 854.5h2M1847 851.5h2M1847 848.5h2M1847 845.5h6M1847 841.5h2M1847 838.5h2M1847 835.5h2M1847 832.5h2M1847 829.5h6M1847 826.5h2M1847 823.5h2M1847 820.5h2M1847 817.5h2M1847 814.5h6M1847 811.5h2M1847 808.5h2M1847 804.5h2M1847 801.5h2M1847 798.5h6M1847 795.5h2M1847 792.5h2M1847 789.5h2M1847 786.5h2M1847 783.5h6M1847 780.5h2M1847 777.5h2M1847 774.5h2M1847 771.5h2M1847 767.5h6M1847 764.5h2M1847 761.5h2M1847 758.5h2M1847 755.5h2M1847 752.5h6M1847 749.5h2M1847 746.5h2M1847 743.5h2M1847 740.5h2M1847 737.5h6M1847 734.5h2M1847 730.5h2M1847 727.5h2M1847 724.5h2M1847 721.5h6M1847 718.5h2M1847 715.5h2M1847 712.5h2" stroke="#000" stroke-width="1"/>
<g filter="url(#cr)"><text transform="translate(1879.50 696.00) scale(1.000 1)" font-size="9" text-anchor="end">385</text><text transform="translate(1879.50 665.00) scale(1.000 1)" font-size="9" text-anchor="end">390</text><text transform="translate(1879.50 633.00) scale(1.000 1)" font-size="9" text-anchor="end">395</text><text transform="translate(1879.50 602.00) scale(1.000 1)" font-size="9" text-anchor="end">400</text><text transform="translate(1879.50 570.00) scale(1.000 1)" font-size="9" text-anchor="end">405</text><text transform="translate(1879.50 539.00) scale(1.000 1)" font-size="9" text-anchor="end">410</text><text transform="translate(1879.50 507.00) scale(1.000 1)" font-size="9" text-anchor="end">415</text><text transform="translate(1879.50 476.00) scale(1.000 1)" font-size="9" text-anchor="end">420</text><text transform="translate(1879.50 444.00) scale(1.000 1)" font-size="9" text-anchor="end">425</text><text transform="translate(1879.50 413.00) scale(1.000 1)" font-size="9" text-anchor="end">430</text><text transform="translate(1879.50 381.00) scale(1.000 1)" font-size="9" text-anchor="end">435</text><text transform="translate(1879.50 350.00) scale(1.000 1)" font-size="9" text-anchor="end">440</text><text transform="translate(1879.50 318.00) scale(1.000 1)" font-size="9" text-anchor="end">445</text><text transform="translate(1879.50 287.00) scale(1.000 1)" font-size="9" text-anchor="end">450</text><text transform="translate(1879.50 255.00) scale(1.000 1)" font-size="9" text-anchor="end">455</text><text transform="translate(1879.50 224.00) scale(1.000 1)" font-size="9" text-anchor="end">460</text><text transform="translate(1879.50 192.00) scale(1.000 1)" font-size="9" text-anchor="end">465</text><text transform="translate(1879.50 161.00) scale(1.000 1)" font-size="9" text-anchor="end">470</text><text transform="translate(1879.50 129.00) scale(1.000 1)" font-size="9" text-anchor="end">475</text><text transform="translate(1879.50 98.00) scale(1.000 1)" font-size="9" text-anchor="end">480</text><text transform="translate(1879.50 66.00) scale(1.000 1)" font-size="9" text-anchor="end">485</text><text transform="translate(1879.50 35.00) scale(1.000 1)" font-size="9" text-anchor="end">490</text><text transform="translate(1879.50 865.00) scale(1.000 1)" font-size="9" text-anchor="end">30</text><text transform="translate(1879.50 849.00) scale(1.000 1)" font-size="9" text-anchor="end">35</text><text transform="translate(1879.50 834.00) scale(1.000 1)" font-size="9" text-anchor="end">40</text><text transform="translate(1879.50 819.00) scale(1.000 1)" font-size="9" text-anchor="end">45</text><text transform="translate(1879.50 803.00) scale(1.000 1)" font-size="9" text-anchor="end">50</text><text transform="translate(1879.50 788.00) scale(1.000 1)" font-size="9" text-anchor="end">55</text><text transform="translate(1879.50 772.00) scale(1.000 1)" font-size="9" text-anchor="end">60</text><text transform="translate(1879.50 757.00) scale(1.000 1)" font-size="9" text-anchor="end">65</text><text transform="translate(1879.50 742.00) scale(1.000 1)" font-size="9" text-anchor="end">70</text><text transform="translate(1879.50 726.00) scale(1.000 1)" font-size="9" text-anchor="end">75</text></g>
<path d="M0 878.5H1846" stroke="#000" stroke-width="1"/>
<path d="M-3.5 867V878M26.5 867V878M44.5 867V878M73.5 867V878M103.5 867V878M132.5 867V878M161.5 867V878M190.5 867V878M220.5 867V878M249.5 867V878M278.5 867V878M307.5 867V878M337.5 867V878M366.5 867V878M390.5 867V878M419.5 867V878M448.5 867V878M477.5 867V878M507.5 867V878M536.5 867V878M566.5 867V878M595.5 867V878M624.5 867V878M653.5 867V878M683.5 867V878M712.5 867V878M741.5 867V878M770.5 867V878M800.5 867V878M829.5 867V878M859.5 867V878M876.5 867V878M899.5 867V878M929.5 867V878M958.5 867V878M987.5 867V878M1016.5 867V878M1046.5 867V878M1075.5 867V878M1105.5 867V878M1134.5 867V878M1163.5 867V878M1192.5 867V878M1222.5 867V878M1245.5 867V878M1269.5 867V878M1298.5 867V878M1327.5 867V878M1356.5 867V878M1386.5 867V878M1409.5 867V878M1439.5 867V878M1468.5 867V878M1492.5 867V878M1521.5 867V878M1550.5 867V878M1579.5 867V878M1609.5 867V878M1638.5 867V878M1667.5 867V878M1696.5 867V878M1726.5 867V878M1755.5 867V878M1785.5 867V878M1814.5 867V878M1843.5 867V878M20.5 867V889M132.5 867V889M261.5 867V889M390.5 867V889M507.5 867V889M641.5 867V889M770.5 867V889M882.5 867V889M1010.5 867V889M1128.5 867V889M1245.5 867V889M1368.5 867V889M1492.5 867V889M1609.5 867V889M1743.5 867V889" stroke="#000" stroke-width="1"/>
<g clip-path="url(#cpx)"><g filter="url(#cr)"><text transform="translate(-1.00 876.00) scale(1.000 1)" font-size="9">28</text><text transform="translate(28.00 876.00) scale(1.000 1)" font-size="9">6</text><text transform="translate(46.00 876.00) scale(1.000 1)" font-size="9">11</text><text transform="translate(75.00 876.00) scale(1.000 1)" font-size="9">18</text><text transform="translate(105.00 876.00) scale(1.000 1)" font-size="9">25</text><text transform="translate(134.00 876.00) scale(1.000 1)" font-size="9">2</text><text transform="translate(163.00 876.00) scale(1.000 1)" font-size="9">9</text><text transform="translate(192.00 876.00) scale(1.000 1)" font-size="9">16</text><text transform="translate(222.00 876.00) scale(1.000 1)" font-size="9">23</text><text transform="translate(251.00 876.00) scale(1.000 1)" font-size="9">30</text><text transform="translate(280.00 876.00) scale(1.000 1)" font-size="9">6</text><text transform="translate(309.00 876.00) scale(1.000 1)" font-size="9">13</text><text transform="translate(339.00 876.00) scale(1.000 1)" font-size="9">20</text><text transform="translate(368.00 876.00) scale(1.000 1)" font-size="9">28</text><text transform="translate(392.00 876.00) scale(1.000 1)" font-size="9">3</text><text transform="translate(421.00 876.00) scale(1.000 1)" font-size="9">10</text><text transform="translate(450.00 876.00) scale(1.000 1)" font-size="9">17</text><text transform="translate(479.00 876.00) scale(1.000 1)" font-size="9">24</text><text transform="translate(509.00 876.00) scale(1.000 1)" font-size="9">1</text><text transform="translate(538.00 876.00) scale(1.000 1)" font-size="9">8</text><text transform="translate(568.00 876.00) scale(1.000 1)" font-size="9">15</text><text transform="translate(597.00 876.00) scale(1.000 1)" font-size="9">22</text><text transform="translate(626.00 876.00) scale(1.000 1)" font-size="9">29</text><text transform="translate(655.00 876.00) scale(1.000 1)" font-size="9">5</text><text transform="translate(685.00 876.00) scale(1.000 1)" font-size="9">12</text><text transform="translate(714.00 876.00) scale(1.000 1)" font-size="9">19</text><text transform="translate(743.00 876.00) scale(1.000 1)" font-size="9">26</text><text transform="translate(772.00 876.00) scale(1.000 1)" font-size="9">3</text><text transform="translate(802.00 876.00) scale(1.000 1)" font-size="9">10</text><text transform="translate(831.00 876.00) scale(1.000 1)" font-size="9">17</text><text transform="translate(861.00 876.00) scale(1.000 1)" font-size="9">24</text><text transform="translate(878.00 876.00) scale(1.000 1)" font-size="9">31</text><text transform="translate(901.00 876.00) scale(1.000 1)" font-size="9">7</text><text transform="translate(931.00 876.00) scale(1.000 1)" font-size="9">14</text><text transform="translate(960.00 876.00) scale(1.000 1)" font-size="9">21</text><text transform="translate(989.00 876.00) scale(1.000 1)" font-size="9">28</text><text transform="translate(1018.00 876.00) scale(1.000 1)" font-size="9">4</text><text transform="translate(1048.00 876.00) scale(1.000 1)" font-size="9">11</text><text transform="translate(1077.00 876.00) scale(1.000 1)" font-size="9">18</text><text transform="translate(1107.00 876.00) scale(1.000 1)" font-size="9">25</text><text transform="translate(1136.00 876.00) scale(1.000 1)" font-size="9">4</text><text transform="translate(1165.00 876.00) scale(1.000 1)" font-size="9">11</text><text transform="translate(1194.00 876.00) scale(1.000 1)" font-size="9">18</text><text transform="translate(1224.00 876.00) scale(1.000 1)" font-size="9">25</text><text transform="translate(1247.00 876.00) scale(1.000 1)" font-size="9">2</text><text transform="translate(1271.00 876.00) scale(1.000 1)" font-size="9">8</text><text transform="translate(1300.00 876.00) scale(1.000 1)" font-size="9">15</text><text transform="translate(1329.00 876.00) scale(1.000 1)" font-size="9">22</text><text transform="translate(1358.00 876.00) scale(1.000 1)" font-size="9">29</text><text transform="translate(1388.00 876.00) scale(1.000 1)" font-size="9">7</text><text transform="translate(1411.00 876.00) scale(1.000 1)" font-size="9">13</text><text transform="translate(1441.00 876.00) scale(1.000 1)" font-size="9">20</text><text transform="translate(1470.00 876.00) scale(1.000 1)" font-size="9">28</text><text transform="translate(1494.00 876.00) scale(1.000 1)" font-size="9">3</text><text transform="translate(1523.00 876.00) scale(1.000 1)" font-size="9">10</text><text transform="translate(1552.00 876.00) scale(1.000 1)" font-size="9">17</text><text transform="translate(1581.00 876.00) scale(1.000 1)" font-size="9">24</text><text transform="translate(1611.00 876.00) scale(1.000 1)" font-size="9">1</text><text transform="translate(1640.00 876.00) scale(1.000 1)" font-size="9">8</text><text transform="translate(1669.00 876.00) scale(1.000 1)" font-size="9">15</text><text transform="translate(1698.00 876.00) scale(1.000 1)" font-size="9">22</text><text transform="translate(1728.00 876.00) scale(1.000 1)" font-size="9">29</text><text transform="translate(1757.00 876.00) scale(1.000 1)" font-size="9">5</text><text transform="translate(1787.00 876.00) scale(1.000 1)" font-size="9">12</text><text transform="translate(1816.00 876.00) scale(1.000 1)" font-size="9">19</text><text transform="translate(1845.00 876.00) scale(1.000 1)" font-size="9">26</text><text transform="translate(-1.00 876.00) scale(1.000 1)" font-size="9">28</text><text transform="translate(22.00 888.00) scale(1.000 1)" font-size="9">June</text><text transform="translate(134.00 888.00) scale(1.000 1)" font-size="9">July</text><text transform="translate(263.00 888.00) scale(1.000 1)" font-size="9">August</text><text transform="translate(392.00 888.00) scale(1.000 1)" font-size="9">September</text><text transform="translate(509.00 888.00) scale(1.000 1)" font-size="9">October</text><text transform="translate(643.00 888.00) scale(1.000 1)" font-size="9">November</text><text transform="translate(772.00 888.00) scale(1.000 1)" font-size="9">December</text><text transform="translate(884.00 888.00) scale(1.000 1)" font-size="9">2013</text><text transform="translate(1012.00 888.00) scale(1.000 1)" font-size="9">February</text><text transform="translate(1130.00 888.00) scale(1.000 1)" font-size="9">March</text><text transform="translate(1247.00 888.00) scale(1.000 1)" font-size="9">April</text><text transform="translate(1370.00 888.00) scale(1.000 1)" font-size="9">May</text><text transform="translate(1494.00 888.00) scale(1.000 1)" font-size="9">June</text><text transform="translate(1611.00 888.00) scale(1.000 1)" font-size="9">July</text><text transform="translate(1745.00 888.00) scale(1.000 1)" font-size="9">August</text></g></g>
<defs><clipPath id="cpx"><rect x="0" y="860" width="1846" height="29"/></clipPath></defs>
<g filter="url(#cr)">
<text x="821" y="10.5" font-size="9.5" textLength="204" lengthAdjust="spacingAndGlyphs">BP (443.100, 446.282, 441.500, 443.250, +1.45001)</text>
<text x="858.6" y="720" font-size="9.5" textLength="130.5" lengthAdjust="spacingAndGlyphs">Relative Strength Index (33.9784)</text>
<text x="859.6" y="876.7" font-size="9.5" textLength="127" lengthAdjust="spacingAndGlyphs">Relative Strength Index (33.9784)</text>
<text x="1565.3" y="405.0" font-size="12" font-weight="bold" fill="#0000ff" textLength="137.0" lengthAdjust="spacingAndGlyphs">This is in a trading range.</text>
<text x="1565.3" y="419.3" font-size="12" font-weight="bold" fill="#0000ff" textLength="141.6" lengthAdjust="spacingAndGlyphs">worth a long around 437.5</text>
<text x="1565.3" y="433.6" font-size="12" font-weight="bold" fill="#0000ff" textLength="116.8" lengthAdjust="spacingAndGlyphs">with stops below 435.</text>
<text x="1565.3" y="447.9" font-size="12" font-weight="bold" fill="#0000ff" textLength="153.9" lengthAdjust="spacingAndGlyphs">There is risk attached to this</text>
<text x="1565.3" y="462.2" font-size="12" font-weight="bold" fill="#0000ff" textLength="189.7" lengthAdjust="spacingAndGlyphs">due to main trend line breaking but</text>
<text x="1565.3" y="476.5" font-size="12" font-weight="bold" fill="#0000ff" textLength="196.5" lengthAdjust="spacingAndGlyphs">This could just be a sideways move.</text>
</g>
</svg></body></html>
